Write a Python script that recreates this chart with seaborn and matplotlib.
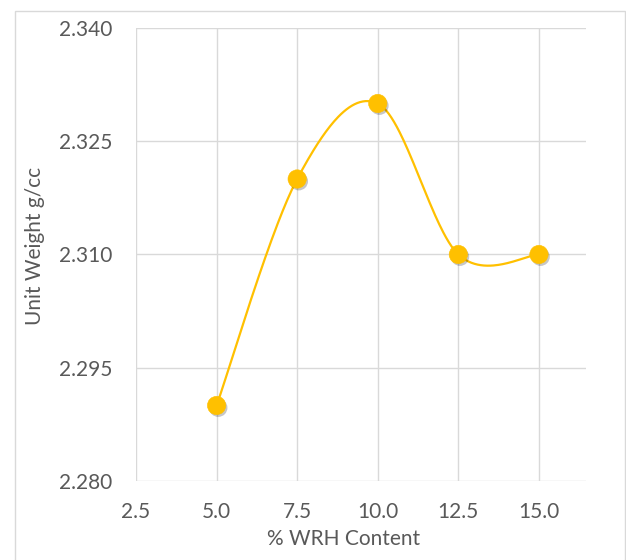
import numpy as np
import pandas as pd
import seaborn as sns
import matplotlib
matplotlib.use("Agg")
import matplotlib.pyplot as plt
import matplotlib.patheffects as pe
from matplotlib.patches import Rectangle

# Measured unit weight for each WRH replacement level
wrh_content = [5.0, 7.5, 10.0, 12.5, 15.0]
unit_weight = [2.290, 2.320, 2.330, 2.310, 2.310]

x_ticks = [2.5, 5.0, 7.5, 10.0, 12.5, 15.0]
y_ticks = [2.280, 2.295, 2.310, 2.325, 2.340]

GOLD = "#FFC000"
GRID = "#D9D9D9"
TEXT = "#595959"


def smooth_curve(xs, ys, n=60):
    """Catmull-Rom style Bezier smoothing through every data point."""
    p = np.column_stack([xs, ys]).astype(float)
    ext = np.vstack([p[0], p, p[-1]])
    out = []
    t = np.linspace(0, 1, n)[:, None]
    for i in range(len(p) - 1):
        p0, p1, p2, p3 = ext[i], ext[i + 1], ext[i + 2], ext[i + 3]
        c1 = p1 + (p2 - p0) / 6.0
        c2 = p2 - (p3 - p1) / 6.0
        seg = ((1 - t) ** 3) * p1 + 3 * ((1 - t) ** 2) * t * c1 \
            + 3 * (1 - t) * t ** 2 * c2 + t ** 3 * p2
        out.append(seg if i == 0 else seg[1:])
    out = np.vstack(out)
    return out[:, 0], out[:, 1]


sns.set_theme(style="white")
plt.rcParams["font.family"] = ["Lato", "DejaVu Sans"]

fig = plt.figure(figsize=(6.26, 5.6), dpi=100)
fig.patch.set_facecolor("white")
ax = fig.add_axes([136 / 626, 1 - 481 / 560, 450 / 626, 453 / 560])

# Light chart-area frame
fig.patches.append(Rectangle((15 / 626, -0.02), 610 / 626, 1.02 - 11 / 560,
                             transform=fig.transFigure, fill=False,
                             edgecolor=GRID, linewidth=1.0))

cx, cy = smooth_curve(wrh_content, unit_weight)
curve = pd.DataFrame({"x": cx, "y": cy})
sns.lineplot(data=curve, x="x", y="y", sort=False, color=GOLD,
             linewidth=1.6, ax=ax, zorder=3)

points = pd.DataFrame({"WRH": wrh_content, "UW": unit_weight})
sns.scatterplot(data=points, x="WRH", y="UW", color=GOLD, s=175,
                edgecolor=GOLD, linewidth=0.4, ax=ax, zorder=4,
                path_effects=[pe.SimplePatchShadow(offset=(1.2, -1.6),
                                                   shadow_rgbFace="#000000",
                                                   alpha=0.22),
                              pe.Normal()])

ax.set_xlim(2.5, 16.46)
ax.set_ylim(2.280, 2.340)
ax.set_xticks(x_ticks)
ax.set_yticks(y_ticks)
ax.set_xticklabels([f"{v:.1f}" for v in x_ticks])
ax.set_yticklabels([f"{v:.3f}" for v in y_ticks])
ax.tick_params(axis="both", length=0, labelsize=15, colors=TEXT)
ax.tick_params(axis="x", pad=15)
ax.tick_params(axis="y", pad=17)

ax.grid(True, color=GRID, linewidth=1.0)
ax.set_axisbelow(True)
for s in ax.spines.values():
    s.set_visible(False)

ax.set_xlabel("% WRH Content", fontsize=15, color=TEXT)
ax.set_ylabel("Unit Weight g/cc", fontsize=15, color=TEXT)
ax.xaxis.set_label_coords((344 - 136) / 450, -(539 - 481) / 453)
ax.yaxis.set_label_coords(-(136 - 35) / 450, (481 - 246) / 453)
ax.xaxis.label.set_va("center")
ax.yaxis.label.set_va("center")

fig.savefig("out.png", dpi=100, facecolor="white")
